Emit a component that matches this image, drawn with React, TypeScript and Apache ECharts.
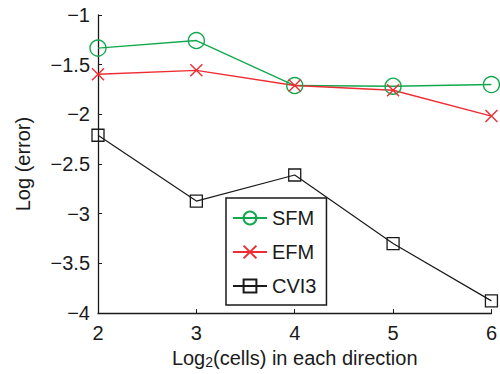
import React, { useEffect, useRef } from "react";
import * as echarts from "echarts";

const xValues = [2, 3, 4, 5, 6];
const sfm = [-1.333, -1.257, -1.71, -1.717, -1.70];
const efm = [-1.597, -1.557, -1.71, -1.757, -2.017];
const cvi3 = [-2.21, -2.873, -2.61, -3.30, -3.877];
const seriesNames = ["SFM", "EFM", "CVI3"];

const GREEN = "#14a84e";
const RED = "#ee2c33";
const BLACK = "#1a1a1a";
const FONT = "Liberation Sans, Arial, Helvetica, sans-serif";

const fmtMinus = (v: number) => (v < 0 ? "\u2212" + String(Math.abs(v)) : String(v));

export default function App() {
  const ref = useRef<HTMLDivElement>(null);
  useEffect(() => {
    if (!ref.current) return;
    const chart = echarts.init(ref.current, undefined, { renderer: "svg" });
    const pair = (ys: number[]) => xValues.map((x, i) => [x, ys[i]]);
    chart.setOption({
      animation: false,
      backgroundColor: "#ffffff",
      textStyle: { fontFamily: FONT },
      grid: { left: 98, right: 8, top: 15, bottom: 59 },
      legend: {
        orient: "vertical",
        left: 226,
        top: 198,
        data: seriesNames,
        itemWidth: 34,
        itemHeight: 16,
        itemGap: 14,
        padding: [10, 10, 9, 6],
        borderColor: BLACK,
        borderWidth: 1.5,
        backgroundColor: "#ffffff",
        textStyle: { fontSize: 20, lineHeight: 20, color: BLACK, fontFamily: FONT },
      },
      xAxis: {
        type: "value",
        min: 2,
        max: 6,
        interval: 1,
        name: "{a|Log}{s|2}{a|(cells) in each direction}",
        nameLocation: "middle",
        nameGap: 32,
        nameTextStyle: {
          rich: {
            a: { fontSize: 20, color: BLACK, fontFamily: FONT },
            s: { fontSize: 14, color: BLACK, fontFamily: FONT, verticalAlign: "bottom", padding: [8, 0, 0, 0] },
          },
        },
        axisLine: { lineStyle: { color: BLACK, width: 1.3 } },
        axisTick: { inside: true, length: 4, lineStyle: { color: BLACK, width: 1 } },
        axisLabel: { fontSize: 20, color: BLACK, margin: 10, fontFamily: FONT },
        splitLine: { show: false },
      },
      yAxis: {
        type: "value",
        min: -4,
        max: -1,
        interval: 0.5,
        name: "Log (error)",
        nameLocation: "middle",
        nameGap: 65,
        nameTextStyle: { fontSize: 20, color: BLACK, fontFamily: FONT },
        axisLine: { show: true, lineStyle: { color: BLACK, width: 1.3 } },
        axisTick: { show: true, inside: true, length: 4, lineStyle: { color: BLACK, width: 1 } },
        axisLabel: { fontSize: 20, color: BLACK, margin: 8, fontFamily: FONT, formatter: fmtMinus },
        splitLine: { show: false },
      },
      series: [
        {
          name: "SFM",
          type: "line",
          data: pair(sfm),
          symbol: "circle",
          symbolSize: 16,
          lineStyle: { color: GREEN, width: 1.4 },
          itemStyle: { color: "none", borderColor: GREEN, borderWidth: 1.4 },
        },
        {
          name: "EFM",
          type: "line",
          data: pair(efm),
          symbol: "path://M0,0L10,10M10,0L0,10",
          symbolSize: 12,
          lineStyle: { color: RED, width: 1.4 },
          itemStyle: { color: "none", borderColor: RED, borderWidth: 1.4 },
        },
        {
          name: "CVI3",
          type: "line",
          data: pair(cvi3),
          symbol: "rect",
          symbolSize: 12,
          lineStyle: { color: BLACK, width: 1.2 },
          itemStyle: { color: "none", borderColor: BLACK, borderWidth: 1.3 },
        },
      ],
    });
    return () => chart.dispose();
  }, []);
  return (
    <div
      ref={ref}
      style={{ position: "fixed", left: 0, top: 0, width: 500, height: 374 }}
    />
  );
}
